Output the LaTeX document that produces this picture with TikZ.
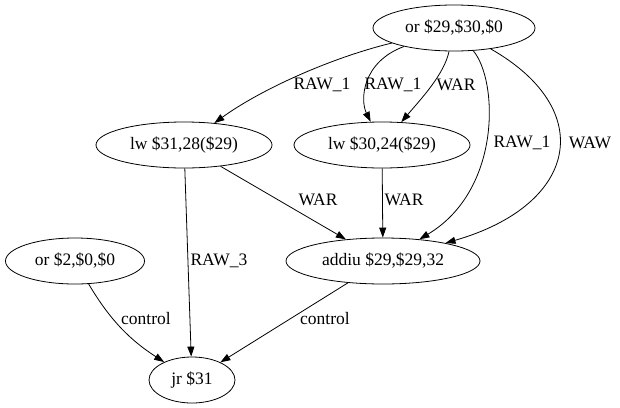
\documentclass[tikz,border=0pt]{standalone}
\usepackage{fontspec}
\setmainfont{Liberation Serif}
\usetikzlibrary{shapes,arrows.meta}

\tikzset{
  instr/.style={draw, ellipse, inner sep=0pt, minimum height=46pt, line width=0.8pt},
  dep/.style={-{Triangle[length=10pt,width=7pt]}, line width=0.8pt},
  lbl/.style={inner sep=0pt}
}

\begin{document}
\begin{tikzpicture}[x=1pt,y=-1pt, font=\fontsize{17.5}{20}\selectfont]
\useasboundingbox (0,0) rectangle (620,407);

% instructions
\node[instr, minimum width=162pt] (or29) at (454,28) {or \$29,\$30,\$0};
\node[instr, minimum width=176pt] (lw31) at (184,145) {lw \$31,28(\$29)};
\node[instr, minimum width=176pt] (lw30) at (382,145) {lw \$30,24(\$29)};
\node[instr, minimum width=194pt] (addiu) at (383,261) {addiu \$29,\$29,32};
\node[instr, minimum width=139pt] (or2) at (75,261) {or \$2,\$0,\$0};
\node[instr, minimum width=86pt] (jr) at (192,380) {jr \$31};

% dependencies
\draw[dep] (or29) .. controls (330,58) and (260,90) .. (lw31);
\node[lbl] (l1) at (322,85) {RAW\_1};
\draw[dep] (or29) .. controls (362,62) and (360,100) .. (lw30);
\node[lbl] (l2) at (393,85) {RAW\_1};
\draw[dep] (or29) .. controls (444,75) and (420,100) .. (lw30);
\node[lbl] (l3) at (456,85) {WAR};
\draw[dep] (or29) .. controls (498,80) and (502,190) .. (addiu);
\node[lbl] (l4) at (522,143) {RAW\_1};
\draw[dep] (or29) .. controls (598,110) and (578,205) .. (addiu);
\node[lbl] (l5) at (590,143) {WAW};

\draw[dep] (lw31) -- (addiu);
\node[lbl] (l6) at (318,200) {WAR};
\draw[dep] (lw30) -- (addiu);
\node[lbl] (l7) at (404,200) {WAR};
\draw[dep] (lw31) -- (jr);
\node[lbl] (l8) at (219,261) {RAW\_3};

\draw[dep] (or2) .. controls (110,320) and (130,340) .. (jr);
\node[lbl] (l9) at (146,319) {control};
\draw[dep] (addiu) -- (jr);
\node[lbl] (l10) at (325,319) {control};
\end{tikzpicture}
\end{document}
